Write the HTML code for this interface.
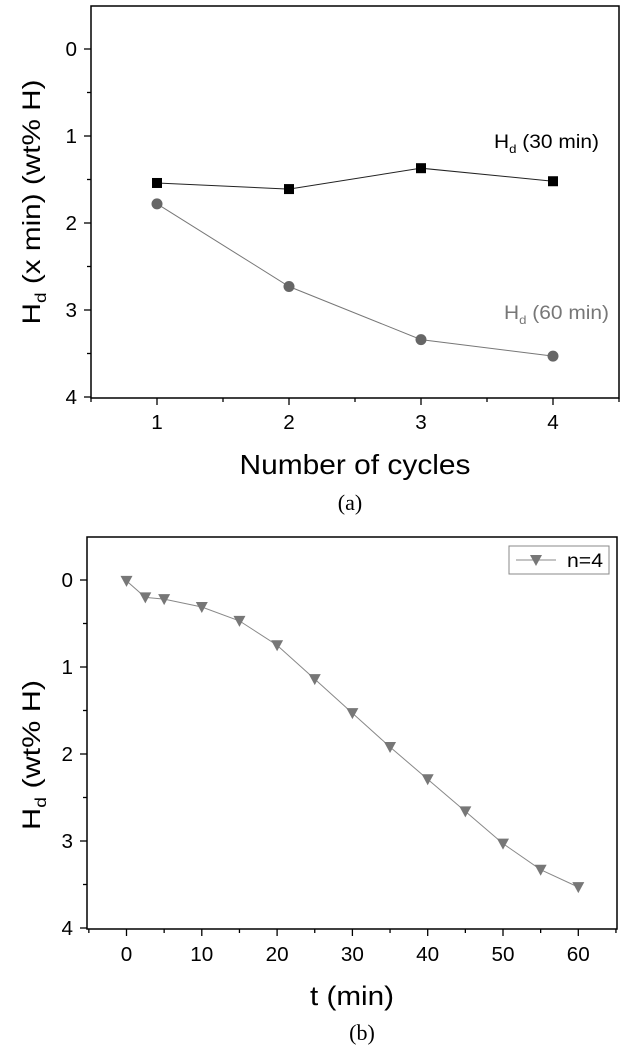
<!DOCTYPE html>
<html><head><meta charset="utf-8"><style>
body{margin:0;background:#fff;}
svg{display:block;font-family:"Liberation Sans",sans-serif;}
</style></head><body>
<svg id="s" width="636" height="1054" viewBox="0 0 636 1054">
<g id="top"></g>
<g id="bot"></g>
</svg>
<script>
// Chart (a) data
const cycles = [1, 2, 3, 4];
const hd30 = [1.54, 1.61, 1.37, 1.52];
const hd60 = [1.78, 2.73, 3.34, 3.53];
const aYTicks = [0, 1, 2, 3, 4];
const aXTicks = [1, 2, 3, 4];
// Chart (b) data
const times = [0, 2.5, 5, 10, 15, 20, 25, 30, 35, 40, 45, 50, 55, 60];
const hdN4 = [0.01, 0.2, 0.22, 0.31, 0.47, 0.75, 1.14, 1.53, 1.92, 2.29, 2.66, 3.03, 3.33, 3.53];
const bYTicks = [0, 1, 2, 3, 4];
const bXTicks = [0, 10, 20, 30, 40, 50, 60];

const NS = "http://www.w3.org/2000/svg";
function mk(parent, tag, attrs, text) {
  const e = document.createElementNS(NS, tag);
  for (const k in attrs) e.setAttribute(k, attrs[k]);
  if (text !== undefined) e.textContent = text;
  parent.appendChild(e);
  return e;
}
function tickText(parent, x, y, anchor, s) {
  const w = 11.5 * String(s).length;
  return mk(parent, 'text', {x: x, y: y, 'text-anchor': anchor, 'font-size': 20, textLength: w, lengthAdjust: 'spacingAndGlyphs'}, String(s));
}

// ---------- Chart A ----------
const A = document.getElementById('top');
const aL = 91, aR = 619, aT = 6, aB = 398;
const ax = v => aL + (v - 0.5) / 4 * (aR - aL);
const ay = v => 49 + v * 87;
let f = mk(A, 'rect', {x: aL, y: aT, width: aR - aL, height: aB - aT, fill: 'none', stroke: '#000', 'stroke-width': 1.5});


for (let v = 0; v <= 4.001; v += 0.5) {
  const major = Math.abs(v - Math.round(v)) < 0.01;
  const t = mk(A, 'line', {x1: aL, x2: aL - (major ? 7 : 4), y1: ay(v), y2: ay(v), stroke: '#000', 'stroke-width': 1.3});
  
  
}
aYTicks.forEach(v => {
  const t = tickText(A, 77, ay(v) + 7, 'end', v);
  
  
});
for (let v = 0.5; v <= 4.501; v += 0.5) {
  const major = Math.abs(v - Math.round(v)) < 0.01;
  const t = mk(A, 'line', {x1: ax(v), x2: ax(v), y1: aB, y2: aB + (major ? 7 : 4), stroke: '#000', 'stroke-width': 1.3});
  
  
}
aXTicks.forEach(v => {
  const t = tickText(A, ax(v), 429, 'middle', v);
  
  
});
let p = mk(A, 'polyline', {points: cycles.map((c, i) => ax(c) + ',' + ay(hd30[i])).join(' '), fill: 'none', stroke: '#222', 'stroke-width': 1});


p = mk(A, 'polyline', {points: cycles.map((c, i) => ax(c) + ',' + ay(hd60[i])).join(' '), fill: 'none', stroke: '#777', 'stroke-width': 1});


cycles.forEach((c, i) => {
  const r = mk(A, 'rect', {x: ax(c) - 5, y: ay(hd30[i]) - 5, width: 10, height: 10, fill: '#000'});
  
  
  const ci = mk(A, 'circle', {cx: ax(c), cy: ay(hd60[i]), r: 5.5, fill: '#666'});
  
  
});
</script>
<script>
(function(){
const A = document.getElementById('top');
A.insertAdjacentHTML('beforeend',
 '<text x="494" y="148" font-size="19" fill="#000" textLength="105" lengthAdjust="spacingAndGlyphs">H<tspan font-size="12" dy="5">d</tspan><tspan dy="-5"> (30 min)</tspan></text>' +
 '<text x="504" y="319" font-size="19" fill="#777" textLength="105" lengthAdjust="spacingAndGlyphs">H<tspan font-size="12" dy="5">d</tspan><tspan dy="-5"> (60 min)</tspan></text>' +
 '<text transform="translate(40,202) rotate(-90)" text-anchor="middle" font-size="25" textLength="245" lengthAdjust="spacingAndGlyphs">H<tspan font-size="16" dy="6">d</tspan><tspan dy="-6"> (x min) (wt% H)</tspan></text>' +
 '<text x="355" y="474" text-anchor="middle" font-size="28" textLength="231" lengthAdjust="spacingAndGlyphs">Number of cycles</text>' +
 '<text x="350" y="510" text-anchor="middle" font-size="22" font-family="Liberation Serif,serif">(a)</text>');
})();
</script>
<script>
// ---------- Chart B ----------
(function(){
const B = document.getElementById('bot');
const bL = 87, bR = 617, bT = 537, bB = 929;
const bx = v => 126.5 + v * 7.53;
const by = v => 580 + v * 87;
let f = mk(B, 'rect', {x: bL, y: bT, width: bR - bL, height: bB - bT, fill: 'none', stroke: '#000', 'stroke-width': 1.5});


for (let v = 0; v <= 4.001; v += 0.5) {
  const major = Math.abs(v - Math.round(v)) < 0.01;
  const t = mk(B, 'line', {x1: bL, x2: bL - (major ? 7 : 4), y1: by(v), y2: by(v), stroke: '#000', 'stroke-width': 1.3});
  
  
}
bYTicks.forEach(v => {
  const t = tickText(B, 73, by(v) + 7, 'end', v);
  
  
});
for (let v = -5; v <= 65; v += 5) {
  const major = v % 10 === 0;
  const t = mk(B, 'line', {x1: bx(v), x2: bx(v), y1: bB, y2: bB + (major ? 7 : 4), stroke: '#000', 'stroke-width': 1.3});
  
  
}
bXTicks.forEach(v => {
  const t = tickText(B, bx(v), 961, 'middle', v);
  
  
});
let p = mk(B, 'polyline', {points: times.map((t, i) => bx(t) + ',' + by(hdN4[i])).join(' '), fill: 'none', stroke: '#888', 'stroke-width': 1});


function tri(g, cx, cy) {
  return mk(g, 'polygon', {points: (cx - 6) + ',' + (cy - 5) + ' ' + (cx + 6) + ',' + (cy - 5) + ' ' + cx + ',' + (cy + 6), fill: '#777'});
}
times.forEach((t, i) => {
  const m = tri(B, bx(t), by(hdN4[i]));
  
  
});
const lg = mk(B, 'g', {});


mk(lg, 'rect', {x: 509, y: 546, width: 100, height: 28, fill: '#fff', stroke: '#888', 'stroke-width': 1});
mk(lg, 'line', {x1: 516, x2: 556, y1: 560, y2: 560, stroke: '#888', 'stroke-width': 1});
tri(lg, 536, 560);
const lt = mk(lg, 'text', {x: 567, y: 567, 'font-size': 19, textLength: 36, lengthAdjust: 'spacingAndGlyphs'}, 'n=4');


B.insertAdjacentHTML('beforeend',
 '<text transform="translate(40,755) rotate(-90)" text-anchor="middle" font-size="25" textLength="150" lengthAdjust="spacingAndGlyphs">H<tspan font-size="16" dy="6">d</tspan><tspan dy="-6"> (wt% H)</tspan></text>' +
 '<text x="352" y="1005" text-anchor="middle" font-size="27" textLength="84" lengthAdjust="spacingAndGlyphs">t (min)</text>' +
 '<text x="362" y="1040" text-anchor="middle" font-size="22" font-family="Liberation Serif,serif">(b)</text>');
})();
</script>
</body></html>
